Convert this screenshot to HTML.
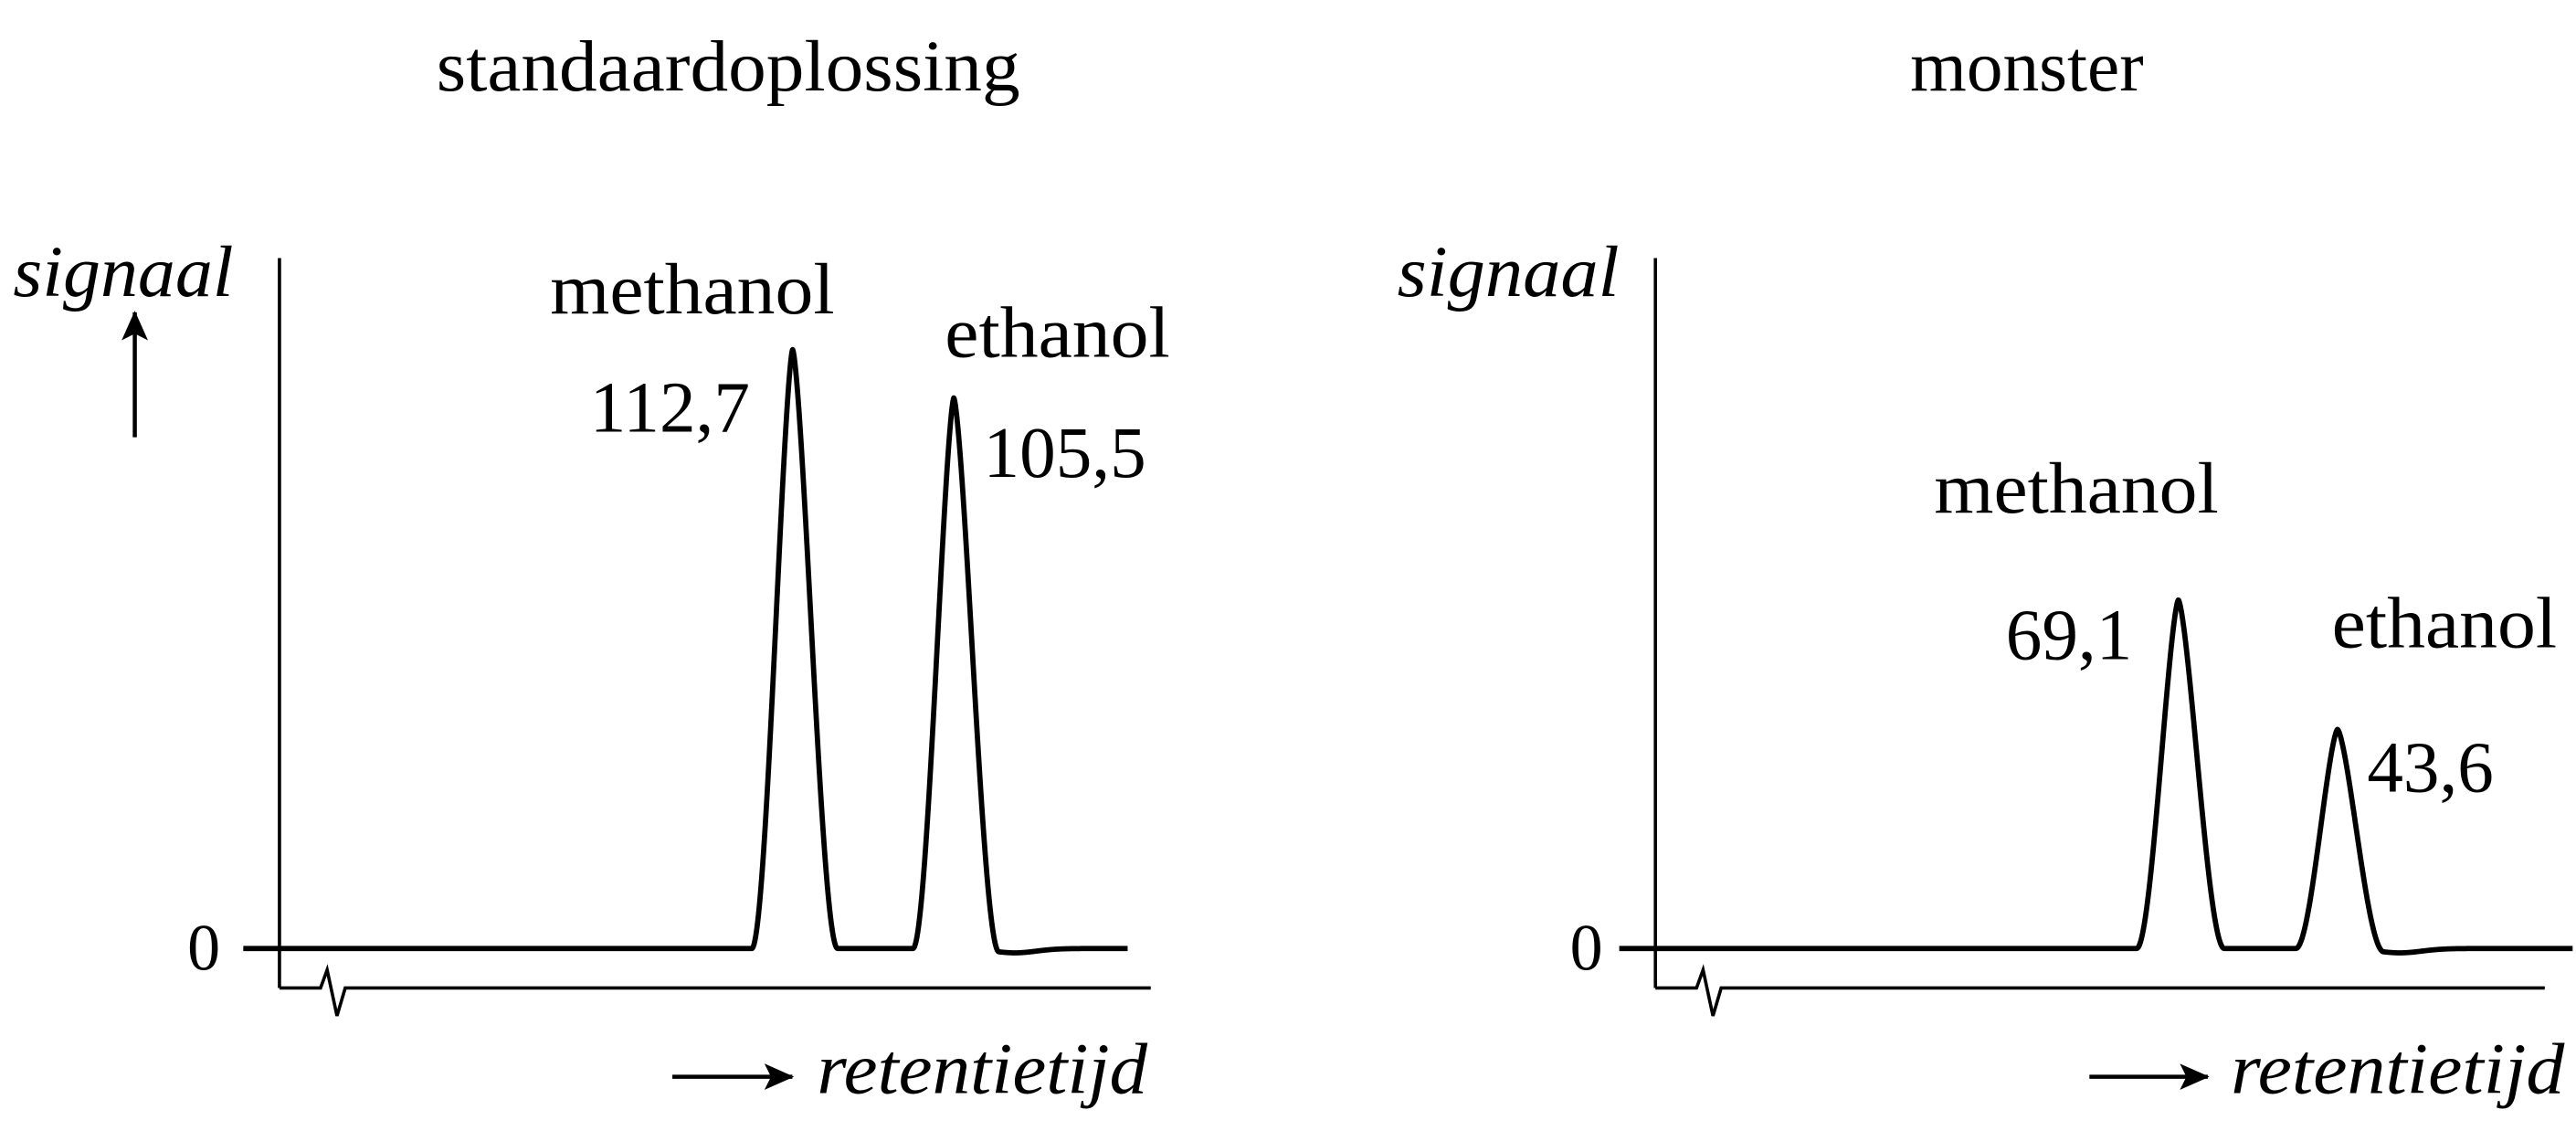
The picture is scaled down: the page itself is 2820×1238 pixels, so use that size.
<!DOCTYPE html>
<html><head><meta charset="utf-8"><style>
html,body{margin:0;padding:0;background:#fff;}
svg{display:block;}
text{font-family:"Liberation Serif",serif;fill:#000;}
</style></head><body>
<svg id="chart" width="2820" height="1238" viewBox="0 0 1567 688" preserveAspectRatio="none" xmlns="http://www.w3.org/2000/svg">
<defs><marker id="ah" markerWidth="20" markerHeight="20" refX="17" refY="8" orient="auto" markerUnits="userSpaceOnUse"><path d="M0,0 L18,8 L0,16 L4,8 Z" fill="#000"/></marker></defs>
<g id="panelL">
<text x="443" y="55" font-size="44" text-anchor="middle" textLength="355" lengthAdjust="spacingAndGlyphs">standaardoplossing</text>
<text x="8" y="180" font-size="44" font-style="italic" textLength="134" lengthAdjust="spacingAndGlyphs">signaal</text>
<line x1="82" y1="266" x2="82" y2="190" stroke="#000" stroke-width="2.5" marker-end="url(#ah)"/>
<text x="124" y="590" font-size="40" text-anchor="middle">0</text>
<line x1="409" y1="655" x2="482" y2="655" stroke="#000" stroke-width="2.5" marker-end="url(#ah)"/>
<text x="497" y="665" font-size="44" font-style="italic" textLength="201" lengthAdjust="spacingAndGlyphs">retentietijd</text>
</g>
<g id="panelR">
<text x="1233" y="55" font-size="44" text-anchor="middle" textLength="142" lengthAdjust="spacingAndGlyphs">monster</text>
<text x="850" y="180" font-size="44" font-style="italic" textLength="135" lengthAdjust="spacingAndGlyphs">signaal</text>
<text x="965" y="590" font-size="40" text-anchor="middle">0</text>
<line x1="1271" y1="655" x2="1343" y2="655" stroke="#000" stroke-width="2.5" marker-end="url(#ah)"/>
<text x="1357" y="665" font-size="44" font-style="italic" textLength="203" lengthAdjust="spacingAndGlyphs">retentietijd</text>
</g>
</svg>
<script>
// Standard solution
const stdNames = ["methanol", "ethanol"];
const stdTimes = [58.9, 77.4];
const stdHeights = [347, 319];
const stdAreas = ["112,7", "105,5"];
// Sample
const smpNames = ["methanol", "ethanol"];
const smpTimes = [58.8, 76.7];
const smpHeights = [202, 127];
const smpAreas = ["69,1", "43,6"];
const peakHalfBase = 4.7;

const NS = "http://www.w3.org/2000/svg";
function mk(tag, attrs, parent){const e=document.createElementNS(NS,tag);for(const k in attrs)e.setAttribute(k,attrs[k]);parent.appendChild(e);return e;}

function shape(u){
  if(u>=1) return 0;
  const a = 1-Math.pow(u,1.5);
  return a*a;
}

function drawPanel(g, ax, names, times, heights, areas, prefix, labelCfg){
  const xS = t => ax.x0 + (t/100)*(ax.x1-ax.x0);
  const yS = v => ax.base - v*1.05;
  const ya = mk("line",{x1:ax.x0,y1:157,x2:ax.x0,y2:601,stroke:"#000","stroke-width":2},g);
  
  
  const z = ax.x0;
  const xa = mk("path",{d:`M${z},601 L${z+25},601 L${z+29},590 L${z+35},618 L${z+40},601 L${ax.xEnd},601`,fill:"none",stroke:"#000","stroke-width":2},g);
  
  
  let d = "";
  const tStart = (ax.traceStart-ax.x0)/(ax.x1-ax.x0)*100;
  const tEnd = (ax.traceEnd-ax.x0)/(ax.x1-ax.x0)*100;
  for(let t=tStart;t<=tEnd;t+=0.05){
    let v = 0;
    for(let i=0;i<times.length;i++){
      const dt=t-times[i];
      const w = dt>0 ? peakHalfBase*1.1 : peakHalfBase;
      v += heights[i]*shape(Math.abs(dt)/w);
    }
    const last = times[times.length-1];
    if(t>last) v -= 2.5*Math.exp(-Math.pow(t-last-7,2)/12);
    d += (d?"L":"M")+xS(t).toFixed(2)+","+yS(v).toFixed(2);
  }
  const tr = mk("path",{d:d,fill:"none",stroke:"#000","stroke-width":3.2,"stroke-linejoin":"round"},g);
  
  
  for(let i=0;i<names.length;i++){
    const c = labelCfg[i];
    const px = xS(times[i]), py = yS(heights[i]);
    const n = mk("text",{x:px+c.nx,y:py+c.ny,"font-size":44,"text-anchor":"middle",textLength:c.w,lengthAdjust:"spacingAndGlyphs"},g);
    n.textContent = names[i];
    
    
    const a = mk("text",{x:px+c.ax,y:py+c.ay,"font-size":44,"text-anchor":c.anchor},g);
    a.textContent = areas[i];
    
    
  }
}

drawPanel(document.getElementById("panelL"),
  {x0:170,x1:700,xEnd:700,base:577,traceStart:148,traceEnd:686},
  stdNames, stdTimes, stdHeights, stdAreas, "standard",
  [{nx:-61,ny:-22,ax:-26,ay:50,anchor:"end",w:173},{nx:63,ny:-25,ax:18,ay:48,anchor:"start",w:137}]);
drawPanel(document.getElementById("panelR"),
  {x0:1007,x1:1548,xEnd:1548,base:577,traceStart:985,traceEnd:1565},
  smpNames, smpTimes, smpHeights, smpAreas, "sample",
  [{nx:-62,ny:-53,ax:-28,ay:36,anchor:"end",w:173},{nx:65,ny:-50,ax:18,ay:38,anchor:"start",w:137}]);
</script>
</body></html>
